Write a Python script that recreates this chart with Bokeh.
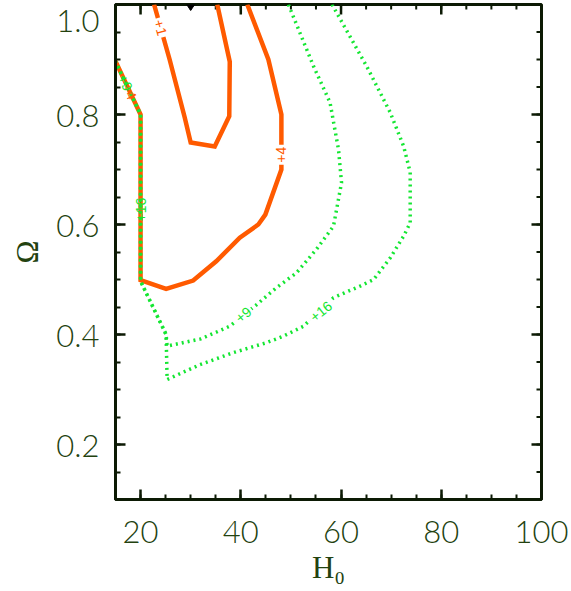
from bokeh.plotting import figure
from bokeh.models import FixedTicker, PrintfTickFormatter, ColumnDataSource, Range1d
from bokeh.core.properties import value
from bokeh.embed import file_html
from bokeh.resources import INLINE
import math

# ---------------- data ----------------
x_major = [20, 40, 60, 80, 100]
x_minor = [15, 20, 25, 30, 35, 40, 45, 50, 55, 60, 65, 70, 75, 80, 85, 90, 95, 100]
y_major = [0.2, 0.4, 0.6, 0.8, 1.0]
y_minor = [0.1, 0.15, 0.2, 0.25, 0.3, 0.35, 0.4, 0.45, 0.5, 0.55, 0.6,
           0.65, 0.7, 0.75, 0.8, 0.85, 0.9, 0.95, 1.0]
y_top_label = "1.0"

# orange solid contour "+1"
c1_h = [22.7, 25.8, 28.8, 30.0, 34.8, 37.7, 37.8, 35.3]
c1_o = [1.00, 0.90, 0.795, 0.749, 0.742, 0.797, 0.896, 1.00]

# orange solid contour "+4"
c4_h = [15.0, 20.0, 20.0, 25.1, 30.5, 35.1, 39.8, 43.5, 44.9, 48.1, 48.1, 45.5, 41.3]
c4_o = [0.897, 0.80, 0.499, 0.483, 0.498, 0.533, 0.576, 0.60, 0.618, 0.70, 0.80, 0.90, 1.00]

# green dotted contour "+9"
c9_h = [49.5, 54.5, 57.8, 59.5, 60.1, 58.5, 55.1, 51.1, 47.1, 43.0, 37.8, 32.0,
        25.3, 25.1, 20.0, 20.0, 15.0]
c9_o = [1.00, 0.888, 0.822, 0.736, 0.676, 0.597, 0.555, 0.512, 0.485, 0.453, 0.415, 0.392,
        0.379, 0.40, 0.497, 0.80, 0.896]

# green dotted contour "+16"
c16_h = [58.2, 65.1, 69.8, 72.5, 73.8, 73.8, 72.5, 69.8, 66.5, 63.8, 58.5, 52.5,
         48.5, 45.1, 38.5, 31.8, 25.3, 25.1, 20.0, 20.0, 15.0]
c16_o = [1.00, 0.888, 0.804, 0.742, 0.695, 0.603, 0.579, 0.539, 0.500, 0.488, 0.467, 0.415,
         0.397, 0.385, 0.367, 0.345, 0.318, 0.40, 0.497, 0.80, 0.896]

# contour labels
lab_gap_text = ["+1", "+4", "+9", "+16"]
lab_gap_h = [24.0, 48.1, 40.5, 56.0]
lab_gap_o = [0.958, 0.727, 0.436, 0.442]
lab_gap_ang = [-74, 90, 40, 39]
lab_gap_col = ["#ff5a00", "#ff5a00", "#14e632", "#14e632"]

lab_on_text = ["+4", "+9", "+16"]
lab_on_h = [17.8, 17.0, 20.0]
lab_on_o = [0.842, 0.858, 0.627]
lab_on_ang = [-65, -65, 90]
lab_on_col = ["#ff5a00", "#14e632", "#14e632"]

# marker at the top edge
best_h = [30.0]
best_o = [1.0]

ORANGE = "#ff5a00"
GREEN = "#14e632"
AXIS = "#0c1a04"
LABEL = "#23420f"
TICK_FONT = "Lato Light"

p = figure(width=570, height=590,
           x_range=Range1d(15, 100), y_range=Range1d(0.1, 1.0),
           output_backend="svg", toolbar_location=None,
           min_border_left=115, min_border_right=29,
           min_border_top=4, min_border_bottom=91,
           background_fill_color="white", border_fill_color="white")
p.grid.visible = False
p.outline_line_color = AXIS
p.outline_line_width = 3

def style_axis(ax, major, minor, fmt):
    ax.ticker = FixedTicker(ticks=major, minor_ticks=minor)
    ax.formatter = PrintfTickFormatter(format=fmt)
    ax.axis_line_color = AXIS
    ax.axis_line_width = 3
    ax.major_tick_in = 10
    ax.major_tick_out = 0
    ax.minor_tick_in = 5
    ax.minor_tick_out = 0
    ax.major_tick_line_color = AXIS
    ax.minor_tick_line_color = AXIS
    ax.major_tick_line_width = 2.5
    ax.minor_tick_line_width = 2
    ax.major_label_text_font = TICK_FONT
    ax.major_label_text_font_size = "31px"
    ax.major_label_text_color = LABEL
    ax.axis_label_text_font = "Liberation Serif"
    ax.axis_label_text_font_size = "31px"
    ax.axis_label_text_font_style = "normal"
    ax.axis_label_text_color = LABEL

xa = p.xaxis[0]
style_axis(xa, x_major, x_minor, "%d")
xa.major_label_standoff = 21
xa.axis_label = "H₀"
xa.axis_label_standoff = 4

ya = p.yaxis[0]
style_axis(ya, y_major, y_minor, "%.1f")
ya.major_label_standoff = 16
# the top y label sits a little below its tick (as in the reference)
ya.major_label_overrides = {1.0: "\n" + y_top_label}
ya.major_label_text_line_height = 0.0
ya.axis_label = "Ω"
ya.axis_label_standoff = 8

# mirrored ticks on the top and right edges (drawn as screen-length rays)
top_major_y = [1.0] * len(x_major)
top_minor_y = [1.0] * len(x_minor)
p.ray(x_major, top_major_y, length=10, length_units="screen", angle=-math.pi / 2,
      line_color=AXIS, line_width=2.5)
p.ray(x_minor, top_minor_y, length=5, length_units="screen", angle=-math.pi / 2,
      line_color=AXIS, line_width=2)
right_major_x = [100.0] * len(y_major)
right_minor_x = [100.0] * len(y_minor)
p.ray(right_major_x, y_major, length=10, length_units="screen", angle=math.pi,
      line_color=AXIS, line_width=2.5)
p.ray(right_minor_x, y_minor, length=5, length_units="screen", angle=math.pi,
      line_color=AXIS, line_width=2)

# orange solid contours
p.line(c1_h, c1_o, line_color=ORANGE, line_width=4.5, line_join="miter")
p.line(c4_h, c4_o, line_color=ORANGE, line_width=4.5, line_join="miter")

# green dotted contours
p.line(c9_h, c9_o, line_color=GREEN, line_width=3.5, line_dash="2 4")
p.line(c16_h, c16_o, line_color=GREEN, line_width=3.5, line_dash="2 4")

# labels that break the line
src_gap = ColumnDataSource(dict(x=lab_gap_h, y=lab_gap_o, t=lab_gap_text,
                                a=[math.radians(v) for v in lab_gap_ang], c=lab_gap_col))
p.text(x="x", y="y", text="t", angle="a", text_color="c", source=src_gap,
       text_font=value("Liberation Sans"), text_font_size="14px",
       text_align="center", text_baseline="middle",
       background_fill_color="white", padding=2)

src_on = ColumnDataSource(dict(x=lab_on_h, y=lab_on_o, t=lab_on_text,
                               a=[math.radians(v) for v in lab_on_ang], c=lab_on_col))
p.text(x="x", y="y", text="t", angle="a", text_color="c", source=src_on,
       text_font=value("Liberation Sans"), text_font_size="14px",
       text_align="center", text_baseline="middle")

p.scatter(best_h, best_o, marker="diamond", size=12, color="black")

open("out.html", "w").write(file_html(p, INLINE))
